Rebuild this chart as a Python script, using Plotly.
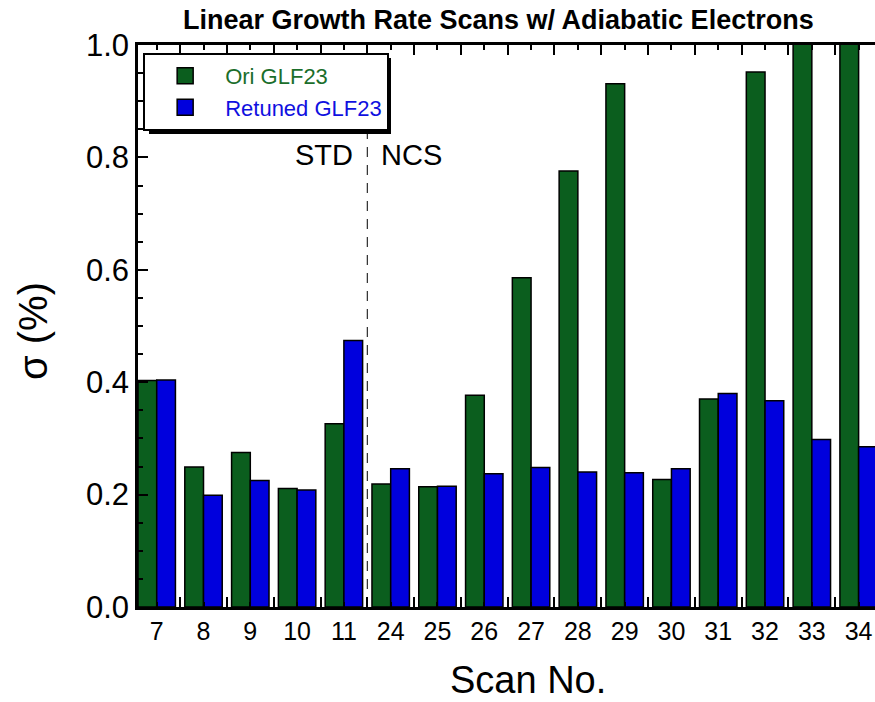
import plotly.graph_objects as go

scans = ["7", "8", "9", "10", "11", "24", "25", "26", "27", "28", "29", "30", "31", "32", "33", "34"]
ori_glf23 = [0.403, 0.249, 0.275, 0.211, 0.326, 0.219, 0.214, 0.377, 0.586, 0.776, 0.931, 0.227, 0.370, 0.952, 1.10, 1.20]
retuned_glf23 = [0.404, 0.199, 0.225, 0.208, 0.474, 0.246, 0.215, 0.237, 0.248, 0.240, 0.239, 0.246, 0.380, 0.367, 0.298, 0.285]
series_names = ["Ori GLF23", "Retuned GLF23"]

xpos = list(range(len(scans)))
FONT = "Liberation Sans, Arial, Helvetica, sans-serif"
GREEN = "#0b5e1e"
BLUE = "#0000dd"
TEXT_COLORS = ["#1b6e2b", "#1010e0"]

fig = go.Figure()
for vals, color in [(ori_glf23, GREEN), (retuned_glf23, BLUE)]:
    fig.add_trace(go.Bar(
        x=xpos, y=vals, showlegend=False,
        marker=dict(color=color, line=dict(color="black", width=1.5)),
    ))
# legend entries with larger square swatches
for name, color, tcol in zip(series_names, [GREEN, BLUE], TEXT_COLORS):
    fig.add_trace(go.Scatter(
        x=[None], y=[None], mode="markers",
        name=f"<span style='color:{tcol}'>{name}</span>",
        marker=dict(symbol="square", size=18, color=color,
                    line=dict(color="black", width=1.5)),
    ))

fig.update_layout(
    template="none",
    width=875, height=702,
    margin=dict(l=138, r=0, t=45, b=95, autoexpand=False),
    paper_bgcolor="white", plot_bgcolor="white",
    barmode="group", bargap=0.2, bargroupgap=0.0,
    font=dict(family=FONT, color="black"),
    showlegend=True,
    legend=dict(
        x=0.007, y=0.986, xanchor="left", yanchor="top",
        bgcolor="white", bordercolor="black", borderwidth=2,
        font=dict(size=22, family=FONT),
        itemwidth=70, tracegroupgap=0,
    ),
    xaxis=dict(
        range=[-0.4, 15.35], automargin=False,
        tickmode="array", tickvals=xpos, ticktext=scans,
        ticklabeloverflow="allow",
        ticks="inside", ticklen=5, tickwidth=2, tickcolor="black",
        minor=dict(tickmode="linear", tick0=0.5, dtick=1, ticks="inside",
                   ticklen=10, tickwidth=2, tickcolor="black", showgrid=False),
        showline=True, linecolor="black", linewidth=2.5, mirror="ticks",
        showgrid=False, zeroline=False,
        tickfont=dict(size=25, family=FONT),
    ),
    yaxis=dict(
        range=[0, 1.0], automargin=False,
        tickmode="linear", tick0=0, dtick=0.2, tickformat=".1f",
        ticks="inside", ticklen=10, tickwidth=2, tickcolor="black",
        minor=dict(tickmode="linear", tick0=0, dtick=0.05, ticks="inside",
                   ticklen=5, tickwidth=2, tickcolor="black", showgrid=False),
        showline=True, linecolor="black", linewidth=2.5, mirror=False,
        showgrid=False, zeroline=False,
        tickfont=dict(size=31, family=FONT),
    ),
    shapes=[
        dict(type="line", xref="x", yref="paper", x0=4.5, x1=4.5, y0=0, y1=1,
             line=dict(color="black", width=1, dash="10px,8px")),
        dict(type="rect", xref="paper", yref="paper",
             x0=(149 - 138) / 737, x1=(391 - 138) / 737,
             y0=(607 - 134) / 562, y1=(607 - 58) / 562,
             fillcolor="black", line=dict(width=0), layer="above"),
    ],
    annotations=[
        dict(text="<b>Linear Growth Rate Scans w/ Adiabatic Electrons</b>",
             xref="paper", yref="paper", x=(498 - 138) / 737, y=(607 - 20) / 562,
             xanchor="center", yanchor="middle", showarrow=False,
             font=dict(size=27, family=FONT)),
        dict(text="Scan No.", xref="paper", yref="paper",
             x=(528 - 138) / 737, y=(607 - 680) / 562,
             xanchor="center", yanchor="middle", showarrow=False,
             font=dict(size=38, family=FONT)),
        dict(text="σ (%)", xref="paper", yref="paper",
             x=(33 - 138) / 737, y=(607 - 331) / 562, textangle=-90,
             xanchor="center", yanchor="middle", showarrow=False,
             font=dict(size=40, family=FONT)),
        dict(text="STD", xref="x", yref="y", x=4.5, y=0.804, xshift=-12,
             xanchor="right", yanchor="middle", showarrow=False,
             font=dict(size=29, family=FONT)),
        dict(text="NCS", xref="x", yref="y", x=4.5, y=0.804, xshift=12,
             xanchor="left", yanchor="middle", showarrow=False,
             font=dict(size=29, family=FONT)),
    ],
)

fig.write_html("out.html", config={"displayModeBar": False},
               post_script="document.body.style.margin='0px';document.body.style.overflow='hidden';")
